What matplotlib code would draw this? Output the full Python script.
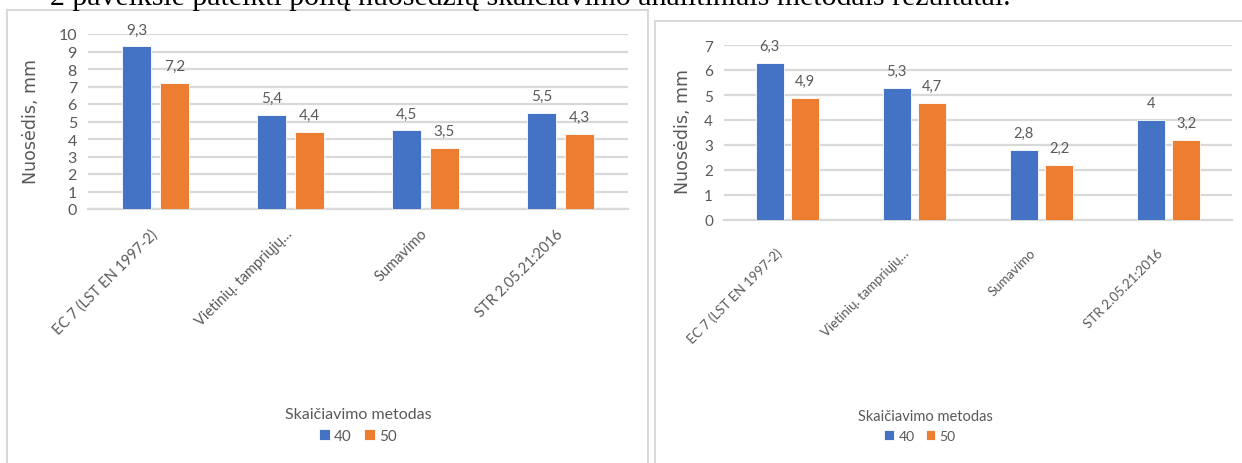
import matplotlib.pyplot as plt
import matplotlib.transforms as mtransforms
import numpy as np
from matplotlib.patches import Rectangle

# Nuosėdžių skaičiavimo rezultatai, mm
methods = ["EC 7 (LST EN 1997-2)", "Vietinių. tampriųjų…", "Sumavimo", "STR 2.05.21:2016"]
series_names = ["40", "50"]
left_40 = [9.3, 5.4, 4.5, 5.5]
left_50 = [7.2, 4.4, 3.5, 4.3]
right_40 = [6.3, 5.3, 2.8, 4.0]
right_50 = [4.9, 4.7, 2.2, 3.2]

BLUE = "#4472C4"
ORANGE = "#ED7D31"
GRID = "#D9D9D9"
TXT = "#595959"

W, H = 1242, 464
fig = plt.figure(figsize=(W / 100, H / 100), dpi=100)


def fx(px):
    return px / W


def fy(py):
    return 1 - py / H


def fmt(v):
    s = f"{v:g}"
    return s.replace(".", ",")


def panel(rect, vals40, vals50, ymax, fs, label_fs, label_pad, label_dx,
          title_xy, legend_xy, ylabel_xy):
    ax = fig.add_axes(rect)
    x = np.arange(len(methods))
    bw = 0.22
    off = 0.14
    b1 = ax.bar(x - off, vals40, bw, color=BLUE, edgecolor="white", linewidth=0.6, zorder=3)
    b2 = ax.bar(x + off, vals50, bw, color=ORANGE, edgecolor="white", linewidth=0.6, zorder=3)
    for bars, vals in ((b1, vals40), (b2, vals50)):
        for b, v in zip(bars, vals):
            ax.annotate(fmt(v), (b.get_x() + b.get_width() / 2, v), xytext=(0, 7),
                        textcoords="offset points", ha="center", va="bottom",
                        fontsize=fs, color=TXT, family="Lato")
    ax.set_xlim(-0.5, len(methods) - 0.5)
    ax.set_ylim(0, ymax)
    ax.set_yticks(np.arange(0, ymax + 1, 1))
    ax.yaxis.grid(True, color=GRID, linewidth=1.6, zorder=0)
    ax.set_axisbelow(True)
    for s in ("top", "right", "left"):
        ax.spines[s].set_visible(False)
    ax.spines["bottom"].set_color(GRID)
    ax.spines["bottom"].set_linewidth(1.6)
    ax.tick_params(axis="both", length=0, labelcolor=TXT)
    ax.tick_params(axis="y", labelsize=fs + 0.5, pad=8)
    for t in ax.get_yticklabels():
        t.set_family("Lato")
    ax.set_xticks(x)
    ax.set_xticklabels(methods, rotation=45, ha="right", va="center",
                       rotation_mode="anchor", fontsize=label_fs, family="Lato")
    ax.tick_params(axis="x", pad=label_pad)
    shift = mtransforms.ScaledTranslation(label_dx / 100, 0, fig.dpi_scale_trans)
    for t in ax.get_xticklabels():
        t.set_transform(t.get_transform() + shift)
    ax.set_ylabel("Nuosėdis, mm", fontsize=12.5, color=TXT, family="DejaVu Sans")
    ax.yaxis.set_label_coords(fx(ylabel_xy[0]), fy(ylabel_xy[1]), transform=fig.transFigure)
    fig.text(fx(title_xy[0]), fy(title_xy[1]), "Skaičiavimo metodas", ha="center", va="center",
             fontsize=label_fs + 1, color=TXT, family="Lato")
    fig.legend([b1, b2], series_names, loc="center", ncol=2,
               bbox_to_anchor=(fx(legend_xy[0]), fy(legend_xy[1])),
               frameon=False, handlelength=0.7, handleheight=0.7, handletextpad=0.3,
               columnspacing=0.8, prop={"family": "Lato", "size": label_fs + 0.5},
               labelcolor=TXT)
    return ax


# rėmeliai aplink abi diagramas
fig.patches.append(Rectangle((fx(7), fy(480)), fx(641), fy(11) - fy(480),
                             transform=fig.transFigure, fill=False, edgecolor=GRID, linewidth=1.5))
fig.patches.append(Rectangle((fx(655), fy(480)), fx(600), fy(22) - fy(480),
                             transform=fig.transFigure, fill=False, edgecolor=GRID, linewidth=1.5))

panel([fx(88), fy(210), fx(540), fy(35) - fy(210)], left_40, left_50, 10, 11, 10.5, 16, 0,
      (358, 415), (358, 437), (40, 122))
panel([fx(724), fy(221), fx(508), fy(46) - fy(221)], right_40, right_50, 7, 10.5, 9.5, 22, -8,
      (925, 417), (920, 437), (692, 132))

fig.text(fx(50), fy(5), "2 paveiksle pateikti polių nuosėdžių skaičiavimo analitiniais metodais rezultatai.",
         ha="left", va="baseline", fontsize=21.5, family="Liberation Serif", color="black")

fig.savefig("out.png", dpi=100)
